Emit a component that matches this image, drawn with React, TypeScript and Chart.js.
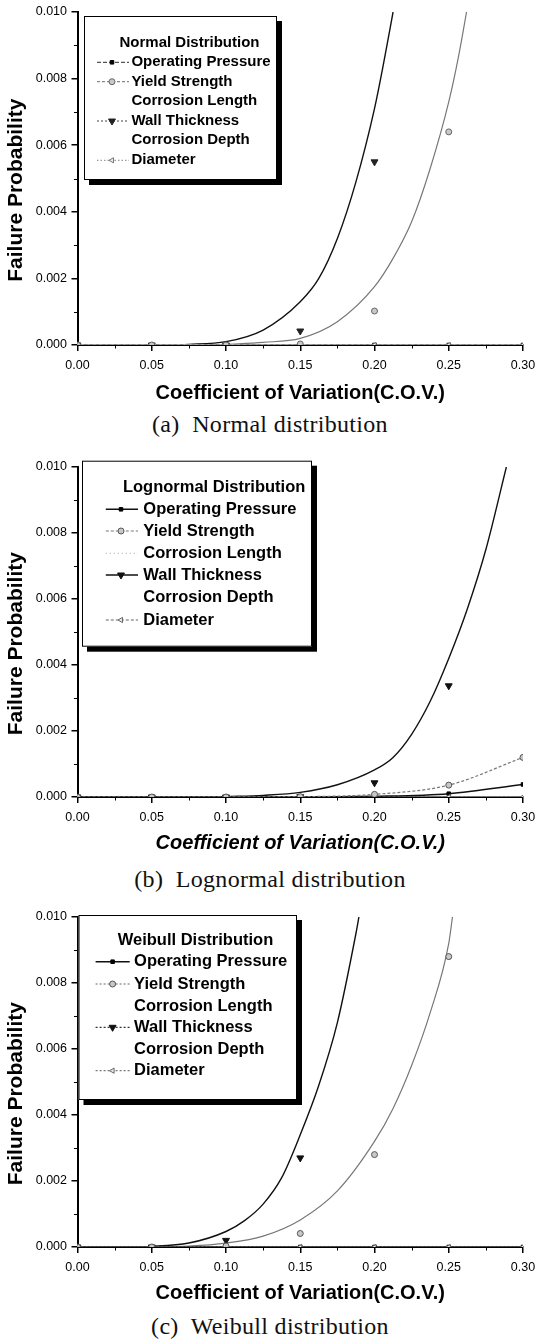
import React, { useEffect, useRef } from 'react';
import { Chart, registerables } from 'chart.js';
import { drawPoint } from 'chart.js/helpers';

Chart.register(...registerables);

const FONT = '"Liberation Sans", Arial, Helvetica, sans-serif';

// ---------------- data ----------------
const COV = [0, 0.05, 0.1, 0.15, 0.2, 0.25, 0.3];
const X_TICKS = [0, 0.05, 0.1, 0.15, 0.2, 0.25, 0.3];
const X_MINOR = [0.025, 0.075, 0.125, 0.175, 0.225, 0.275];
const Y_TICKS = [0, 0.002, 0.004, 0.006, 0.008, 0.01];
const Y_MINOR = [0.001, 0.003, 0.005, 0.007, 0.009];

const SERIES_NAMES = [
  'Operating Pressure',
  'Yield Strength',
  'Corrosion Length',
  'Wall Thickness',
  'Corrosion Depth',
  'Diameter',
];

// (a) Normal distribution
const NORMAL_OPERATING = [0, 0, 0, 0, 0, 0, 0];
const NORMAL_YIELD = [0, 0, 0, 0.00003, 0.00102, 0.0064, null];
const NORMAL_CORR_LENGTH = [0, 0, 0, 0, 0, 0, 0];
const NORMAL_WALL = [0, 0, 0, 0.00042, 0.0055, null, null];
const NORMAL_CORR_DEPTH = [0, 0, 0, 0, 0, 0, 0];
const NORMAL_DIAMETER = [0, 0, 0, 0, 0, 0, 0];
const NORMAL_WALL_FIT_X = [0.05, 0.075, 0.1, 0.125, 0.15, 0.1625, 0.175, 0.1875, 0.2, 0.2063, 0.2125];
const NORMAL_WALL_FIT_Y = [0, 0.00002, 0.0001, 0.00045, 0.0013, 0.002, 0.0032, 0.0049, 0.0071, 0.0085, 0.01];
const NORMAL_YIELD_FIT_X = [0.1, 0.125, 0.15, 0.175, 0.2, 0.2125, 0.225, 0.2375, 0.25, 0.2563, 0.262];
const NORMAL_YIELD_FIT_Y = [0.00002, 0.00008, 0.0002, 0.0007, 0.00175, 0.0026, 0.0037, 0.0053, 0.0073, 0.0086, 0.01];

// (b) Lognormal distribution
const LOGNORMAL_OPERATING = [0, 0, 0, 0, 0.00002, 0.0001, 0.00038];
const LOGNORMAL_YIELD = [0, 0, 0, 0.00001, 0.00008, 0.00036, 0.0012];
const LOGNORMAL_CORR_LENGTH = [0, 0, 0, 0, 0, 0, 0];
const LOGNORMAL_WALL = [0, 0, 0, 0.00001, 0.00043, 0.00337, null];
const LOGNORMAL_CORR_DEPTH = [0, 0, 0, 0, 0, 0, 0];
const LOGNORMAL_DIAMETER = [0, 0, 0, 0, 0, 0, 0];
const LOGNORMAL_WALL_FIT_X = [0.1, 0.125, 0.15, 0.175, 0.2, 0.2125, 0.225, 0.2375, 0.25, 0.2625, 0.275, 0.2888];
const LOGNORMAL_WALL_FIT_Y = [0.00001, 0.00005, 0.00014, 0.00037, 0.00082, 0.0012, 0.0019, 0.0029, 0.0042, 0.0057, 0.0075, 0.01];

// (c) Weibull distribution
const WEIBULL_OPERATING = [0, 0, 0, 0, 0, 0, 0];
const WEIBULL_YIELD = [0, 0, 0.00003, 0.00041, 0.0028, 0.0088, null];
const WEIBULL_CORR_LENGTH = [0, 0, 0, 0, 0, 0, 0];
const WEIBULL_WALL = [0, 0, 0.0002, 0.0027, null, null, null];
const WEIBULL_CORR_DEPTH = [0, 0, 0, 0, 0, 0, 0];
const WEIBULL_DIAMETER = [0, 0, 0, 0, 0, 0, 0];
const WEIBULL_WALL_FIT_X = [0.025, 0.05, 0.075, 0.1, 0.1125, 0.125, 0.1375, 0.15, 0.1625, 0.175, 0.1875, 0.1895];
const WEIBULL_WALL_FIT_Y = [0, 0.00002, 0.00012, 0.00047, 0.0008, 0.0013, 0.0021, 0.0034, 0.0049, 0.0068, 0.0095, 0.01];
const WEIBULL_YIELD_FIT_X = [0.05, 0.075, 0.1, 0.125, 0.15, 0.175, 0.2, 0.2125, 0.225, 0.2375, 0.25, 0.2525];
const WEIBULL_YIELD_FIT_Y = [0.00001, 0.00003, 0.00012, 0.00033, 0.00082, 0.0017, 0.0032, 0.0042, 0.0055, 0.0071, 0.0092, 0.01];

// ---------------- styles / layout ----------------
type SeriesStyle = {
  line: string; width: number; dash: number[]; showLine: boolean;
  point: any; radius: number; rotation: number; fill: string; stroke: string; sample: boolean; order: number;
};

const S = (o: Partial<SeriesStyle>): SeriesStyle => ({
  line: '#555', width: 1.2, dash: [], showLine: true, point: 'circle', radius: 0,
  rotation: 0, fill: '#fff', stroke: '#555', sample: true, order: 5, ...o,
});

const NORMAL_STYLES = [
  S({ line: '#555', dash: [4, 2], point: 'rect', radius: 2.5, fill: '#000', stroke: '#000', order: 3 }),
  S({ line: '#888', dash: [3, 2], showLine: false, point: 'circle', radius: 3, fill: '#c8c8c8', stroke: '#666', order: 0 }),
  S({ line: '#e6e6e6', sample: false, order: 4 }),
  S({ line: '#444', dash: [2, 2], showLine: false, point: 'triangle', rotation: 180, radius: 4, fill: '#222', stroke: '#222', order: 2 }),
  S({ line: '#e6e6e6', sample: false, order: 5 }),
  S({ line: '#999', dash: [1.5, 2], point: 'triangle', rotation: -90, radius: 3, fill: '#eee', stroke: '#777', order: 1 }),
];
const LOGNORMAL_STYLES = [
  S({ line: '#111', width: 1.6, point: 'rect', radius: 2.5, fill: '#000', stroke: '#000', order: 3 }),
  S({ line: '#777', dash: [3, 2], point: 'circle', radius: 3, fill: '#c8c8c8', stroke: '#555', order: 0 }),
  S({ line: '#bbb', dash: [1, 3], order: 4 }),
  S({ line: '#111', width: 1.5, showLine: false, point: 'triangle', rotation: 180, radius: 4, fill: '#111', stroke: '#111', order: 2 }),
  S({ line: '#e6e6e6', sample: false, order: 5 }),
  S({ line: '#666', dash: [3, 2], point: 'triangle', rotation: -90, radius: 3, fill: '#eee', stroke: '#666', order: 1 }),
];
const WEIBULL_STYLES = [
  S({ line: '#111', width: 1.6, point: 'rect', radius: 2.5, fill: '#000', stroke: '#000', order: 3 }),
  S({ line: '#666', dash: [2, 2], showLine: false, point: 'circle', radius: 3, fill: '#c8c8c8', stroke: '#555', order: 0 }),
  S({ line: '#e6e6e6', sample: false, order: 4 }),
  S({ line: '#333', dash: [2, 2], showLine: false, point: 'triangle', rotation: 180, radius: 4, fill: '#111', stroke: '#111', order: 2 }),
  S({ line: '#e6e6e6', sample: false, order: 5 }),
  S({ line: '#777', dash: [2, 2], point: 'triangle', rotation: -90, radius: 3, fill: '#eee', stroke: '#666', order: 1 }),
];

const PANELS = [
  {
    key: 'a',
    legendTitle: 'Normal Distribution',
    caption: '(a)  Normal distribution',
    italicTitle: false,
    series: [NORMAL_OPERATING, NORMAL_YIELD, NORMAL_CORR_LENGTH, NORMAL_WALL, NORMAL_CORR_DEPTH, NORMAL_DIAMETER],
    styles: NORMAL_STYLES,
    fits: [
      { x: NORMAL_WALL_FIT_X, y: NORMAL_WALL_FIT_Y, color: '#111', width: 1.4 },
      { x: NORMAL_YIELD_FIT_X, y: NORMAL_YIELD_FIT_Y, color: '#777', width: 1.2 },
    ],
    canvasTop: 0, chartTop: 11.7, chartBottom: 345, axisTitleCenter: 393, captionCenter: 425,
    legend: {
      left: 84, top: 16, width: 193, height: 164, shadow: 5,
      titleX: 119.5, titleY: 42.7, titleSize: 15,
      rows: [62.3, 81.7, 101, 121, 140.3, 160.3],
      lineX1: 97, lineX2: 129, markerX: 112, textX: 131.4, textSize: 15,
    },
  },
  {
    key: 'b',
    legendTitle: 'Lognormal Distribution',
    caption: '(b)  Lognormal distribution',
    italicTitle: true,
    series: [LOGNORMAL_OPERATING, LOGNORMAL_YIELD, LOGNORMAL_CORR_LENGTH, LOGNORMAL_WALL, LOGNORMAL_CORR_DEPTH, LOGNORMAL_DIAMETER],
    styles: LOGNORMAL_STYLES,
    fits: [
      { x: LOGNORMAL_WALL_FIT_X, y: LOGNORMAL_WALL_FIT_Y, color: '#111', width: 1.4 },
    ],
    canvasTop: 455, chartTop: 465, chartBottom: 797, axisTitleCenter: 843, captionCenter: 880,
    legend: {
      left: 82, top: 460.7, width: 230, height: 186, shadow: 5,
      titleX: 122.9, titleY: 487.7, titleSize: 16.5,
      rows: [509.3, 531, 553.3, 575, 597.3, 620],
      lineX1: 105.8, lineX2: 138, markerX: 121, textX: 143.3, textSize: 16.5,
    },
  },
  {
    key: 'c',
    legendTitle: 'Weibull Distribution',
    caption: '(c)  Weibull distribution',
    italicTitle: false,
    series: [WEIBULL_OPERATING, WEIBULL_YIELD, WEIBULL_CORR_LENGTH, WEIBULL_WALL, WEIBULL_CORR_DEPTH, WEIBULL_DIAMETER],
    styles: WEIBULL_STYLES,
    fits: [
      { x: WEIBULL_WALL_FIT_X, y: WEIBULL_WALL_FIT_Y, color: '#111', width: 1.4 },
      { x: WEIBULL_YIELD_FIT_X, y: WEIBULL_YIELD_FIT_Y, color: '#777', width: 1.2 },
    ],
    canvasTop: 905, chartTop: 915, chartBottom: 1247, axisTitleCenter: 1293, captionCenter: 1327,
    legend: {
      left: 78.5, top: 915, width: 218.5, height: 185, shadow: 5,
      titleX: 117.7, titleY: 940, titleSize: 16.5,
      rows: [961.7, 984, 1006, 1027.3, 1049.3, 1070.7],
      lineX1: 95.6, lineX2: 129.7, markerX: 112.6, textX: 134.1, textSize: 16.5,
    },
  },
];

const CANVAS_W = 560;
const PLOT_LEFT = 77.5;
const PLOT_RIGHT = 523;
const X_SCALE_H = 60;
const X_TITLE_SIZE = 20;
const Y_TITLE_SIZE = 21;

function buildDatasets(spec: any) {
  const ds: any[] = spec.series.map((vals: (number | null)[], i: number) => {
    const st: SeriesStyle = spec.styles[i];
    return {
      label: SERIES_NAMES[i],
      data: COV.map((x, j) => ({ x, y: vals[j] })),
      borderColor: st.line,
      borderWidth: st.width,
      borderDash: st.dash,
      showLine: st.showLine,
      pointStyle: st.point,
      pointRadius: st.radius,
      pointHoverRadius: st.radius,
      pointRotation: st.rotation,
      pointBackgroundColor: st.fill,
      pointBorderColor: st.stroke,
      pointBorderWidth: 1,
      cubicInterpolationMode: 'monotone',
      fill: false,
      inLegend: true,
      legendSample: st.sample,
      order: st.order,
    };
  });
  spec.fits.forEach((f: any, k: number) => {
    ds.push({
      label: 'fit ' + k,
      data: f.x.map((x: number, j: number) => ({ x, y: f.y[j] })),
      borderColor: f.color,
      borderWidth: f.width,
      pointRadius: 0,
      pointHoverRadius: 0,
      cubicInterpolationMode: 'monotone',
      fill: false,
      inLegend: false,
      order: 10 + k,
    });
  });
  return ds;
}

function makeLegendPlugin(spec: any) {
  return {
    id: 'boxLegend',
    afterDraw(chart: any) {
      const L = spec.legend;
      const off = spec.canvasTop;
      const ctx = chart.ctx as CanvasRenderingContext2D;
      ctx.save();
      ctx.fillStyle = '#000';
      ctx.fillRect(L.left + L.shadow, L.top - off + L.shadow, L.width, L.height);
      ctx.fillStyle = '#fff';
      ctx.fillRect(L.left, L.top - off, L.width, L.height);
      ctx.strokeStyle = '#000';
      ctx.lineWidth = 1;
      ctx.strokeRect(L.left + 0.5, L.top - off + 0.5, L.width - 1, L.height - 1);

      ctx.fillStyle = '#000';
      ctx.textAlign = 'left';
      ctx.textBaseline = 'middle';
      ctx.font = `bold ${L.titleSize}px ${FONT}`;
      ctx.fillText(spec.legendTitle, L.titleX, L.titleY - off);

      const entries = chart.data.datasets.filter((d: any) => d.inLegend);
      entries.forEach((d: any, i: number) => {
        const y = L.rows[i] - off;
        if (d.legendSample !== false) {
          ctx.save();
          ctx.strokeStyle = d.borderColor;
          ctx.lineWidth = d.borderWidth;
          ctx.setLineDash(d.borderDash || []);
          ctx.beginPath();
          ctx.moveTo(L.lineX1, y);
          ctx.lineTo(L.lineX2, y);
          ctx.stroke();
          ctx.restore();
          if (d.pointRadius > 0) {
            ctx.save();
            ctx.fillStyle = d.pointBackgroundColor;
            ctx.strokeStyle = d.pointBorderColor;
            ctx.lineWidth = 1;
            ctx.setLineDash([]);
            drawPoint(ctx, { pointStyle: d.pointStyle, rotation: d.pointRotation || 0, radius: d.pointRadius, borderWidth: 1 } as any, L.markerX, y);
            ctx.restore();
          }
        }
        ctx.fillStyle = '#000';
        ctx.font = `bold ${L.textSize}px ${FONT}`;
        ctx.textAlign = 'left';
        ctx.textBaseline = 'middle';
        ctx.fillText(d.label, L.textX, y);
      });
      ctx.restore();
    },
  };
}

const minorTicksPlugin = {
  id: 'minorTicks',
  afterDraw(chart: any) {
    const { ctx, chartArea } = chart;
    const xs = chart.scales.x;
    const ys = chart.scales.y;
    ctx.save();
    ctx.strokeStyle = '#000';
    ctx.lineWidth = 1;
    ctx.beginPath();
    X_MINOR.forEach((v) => {
      const px = Math.round(xs.getPixelForValue(v)) + 0.5;
      ctx.moveTo(px, chartArea.bottom);
      ctx.lineTo(px, chartArea.bottom + 3.5);
    });
    Y_MINOR.forEach((v) => {
      const py = Math.round(ys.getPixelForValue(v)) + 0.5;
      ctx.moveTo(chartArea.left, py);
      ctx.lineTo(chartArea.left - 3.5, py);
    });
    ctx.stroke();
    ctx.restore();
  },
};

function Panel({ spec }: { spec: any }) {
  const ref = useRef<HTMLCanvasElement | null>(null);
  const height = spec.chartBottom + X_SCALE_H - spec.canvasTop;

  useEffect(() => {
    if (!ref.current) return;
    const xTitlePadBottom = spec.chartBottom + X_SCALE_H - spec.axisTitleCenter - (X_TITLE_SIZE * 1.2) / 2;
    const chart = new Chart(ref.current, {
      type: 'line',
      data: { datasets: buildDatasets(spec) },
      options: {
        animation: false,
        responsive: false,
        maintainAspectRatio: false,
        devicePixelRatio: 1,
        layout: {
          padding: { top: spec.chartTop - spec.canvasTop, right: CANVAS_W - PLOT_RIGHT, bottom: 0, left: 0 },
        },
        plugins: {
          legend: { display: false },
          title: { display: false },
          tooltip: { enabled: false },
        },
        scales: {
          x: {
            type: 'linear',
            min: 0,
            max: 0.3,
            afterBuildTicks: (s: any) => { s.ticks = X_TICKS.map((v) => ({ value: v })); },
            afterFit: (s: any) => { s.height = X_SCALE_H; },
            ticks: {
              autoSkip: false,
              maxRotation: 0,
              padding: 7,
              color: '#000',
              font: { family: FONT, size: 12.5 },
              callback: (v: any) => Number(v).toFixed(2),
            },
            grid: { display: true, drawOnChartArea: false, drawTicks: true, tickLength: 6, color: '#000', lineWidth: 1.5 },
            border: { display: true, color: '#000', width: 2 },
            title: {
              display: true,
              text: 'Coefficient of Variation(C.O.V.)',
              color: '#000',
              font: { family: FONT, size: X_TITLE_SIZE, weight: 'bold', style: spec.italicTitle ? 'italic' : 'normal', lineHeight: 1.2 },
              padding: { top: 0, bottom: xTitlePadBottom },
            },
          },
          y: {
            type: 'linear',
            min: 0,
            max: 0.01,
            afterBuildTicks: (s: any) => { s.ticks = Y_TICKS.map((v) => ({ value: v })); },
            afterFit: (s: any) => { s.width = PLOT_LEFT; },
            ticks: {
              padding: 4.5,
              color: '#000',
              font: { family: FONT, size: 12.5 },
              callback: (v: any) => Number(v).toFixed(3),
            },
            grid: { display: true, drawOnChartArea: false, drawTicks: true, tickLength: 6, color: '#000', lineWidth: 1.5 },
            border: { display: true, color: '#000', width: 2 },
            title: {
              display: true,
              text: 'Failure Probability    ',
              color: '#000',
              font: { family: FONT, size: Y_TITLE_SIZE, weight: 'bold', lineHeight: 1.2 },
              padding: { top: 3.4, bottom: 0 },
            },
          },
        },
      } as any,
      plugins: [minorTicksPlugin, makeLegendPlugin(spec)],
    });
    return () => chart.destroy();
  }, [spec]);

  return (
    <>
      <canvas
        ref={ref}
        width={CANVAS_W}
        height={height}
        style={{ position: 'absolute', left: 0, top: spec.canvasTop, width: CANVAS_W, height }}
      />
      <div
        style={{
          position: 'absolute',
          left: 0,
          width: 540,
          top: spec.captionCenter - 13,
          textAlign: 'center',
          fontFamily: '"Liberation Serif", "Times New Roman", serif',
          fontSize: 24,
          lineHeight: '24px',
          letterSpacing: '0.3px',
          whiteSpace: 'pre',
          color: '#111',
        }}
      >
        {spec.caption}
      </div>
    </>
  );
}

export default function App() {
  return (
    <div
      style={{
        position: 'absolute',
        left: 0,
        top: 0,
        width: 535,
        height: 1339,
        overflow: 'hidden',
        background: '#fff',
      }}
    >
      {PANELS.map((p) => (
        <Panel key={p.key} spec={p} />
      ))}
    </div>
  );
}
